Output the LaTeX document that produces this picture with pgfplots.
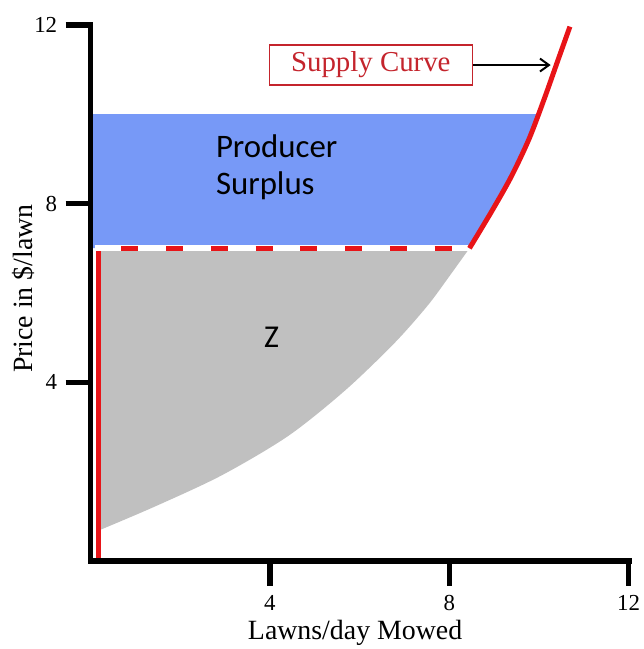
\documentclass[border=0pt]{standalone}
\usepackage{fontspec}
\setmainfont{Liberation Serif}
\newfontfamily\carlito{Carlito}
\usepackage{pgfplots}
\pgfplotsset{compat=1.18}
\usetikzlibrary{arrows.meta}
\definecolor{psblue}{RGB}{119,153,247}
\definecolor{zgray}{RGB}{192,192,192}
\definecolor{supred}{RGB}{232,20,24}
\definecolor{boxred}{RGB}{196,36,44}

\begin{document}
\begin{tikzpicture}
\begin{axis}[
    scale only axis,
    width=541pt, height=539pt,
    xmin=0, xmax=12, ymin=0, ymax=12,
    axis x line*=bottom, axis y line*=left,
    axis line style={line width=6pt, line cap=rect},
    xtick={4,8,12}, ytick={4,8,12},
    tick align=outside, major tick length=25pt,
    tick style={line width=5.5pt, black},
    /pgf/number format/assume math mode=true,
    ticklabel style={font=\fontsize{23}{23}\selectfont},
    xticklabel style={yshift=-6pt},
    yticklabel style={xshift=-5pt},
    xlabel={Lawns/day Mowed}, ylabel={Price in \$/lawn},
    label style={font=\fontsize{28}{28}\selectfont},
    xlabel style={at={(rel axis cs:0.4917,-0.1467)}, anchor=base},
    ylabel style={at={(rel axis cs:-0.1075,0.508)}, anchor=base},
    axis on top, clip=false,
]
    % producer surplus
    \addplot[fill=psblue, draw=none] coordinates {
        (0,7) (8.45,7) (8.93,7.8) (9.38,8.6) (9.78,9.45) (10.0,10) (0,10)
    } -- cycle;

    % area Z
    \addplot[fill=zgray, draw=none, smooth] coordinates {
        (8.45,7) (8.0,6.37) (7.52,5.72) (6.78,4.88) (5.68,3.82)
        (4.41,2.8) (2.93,1.92) (1.46,1.23) (0.2,0.69)
    } -- (axis cs:0.17,7) -- cycle;

    % price line at 7
    \addplot[white, line width=6pt] coordinates {(0.09,7) (8.45,7)};
    \addplot[supred, line width=5pt, dash pattern=on 17pt off 28pt, dash phase=18pt]
        coordinates {(0.09,7) (8.45,7)};

    \addplot[supred, line width=5pt] coordinates {(0.17,0) (0.17,6.93)};

    % supply curve
    \addplot[supred, line width=5pt, smooth] coordinates {
        (8.45,7) (8.93,7.8) (9.38,8.6) (9.78,9.45) (10.12,10.35) (10.42,11.2) (10.69,11.96)
    };

    \node[draw=boxred, line width=1.5pt, text=boxred, font=\fontsize{29}{29}\selectfont,
          minimum width=204pt, minimum height=40pt, inner sep=0pt] (sc)
          at (axis cs:6.25,11.1) {Supply Curve};
    \draw[-{Straight Barb[length=9pt,width=13pt]}, line width=2pt] (sc.east) -- (axis cs:10.26,11.1);

    \node[font=\carlito\fontsize{33}{37}\selectfont, align=left, anchor=west]
        at (axis cs:2.72,8.82) {Producer\\Surplus};
    \node[font=\carlito\fontsize{32}{32}\selectfont] at (axis cs:4.04,5.01) {Z};

    \path (axis cs:-2.018,-1.892) rectangle (axis cs:12.333,12.556);
\end{axis}
\end{tikzpicture}
\end{document}
